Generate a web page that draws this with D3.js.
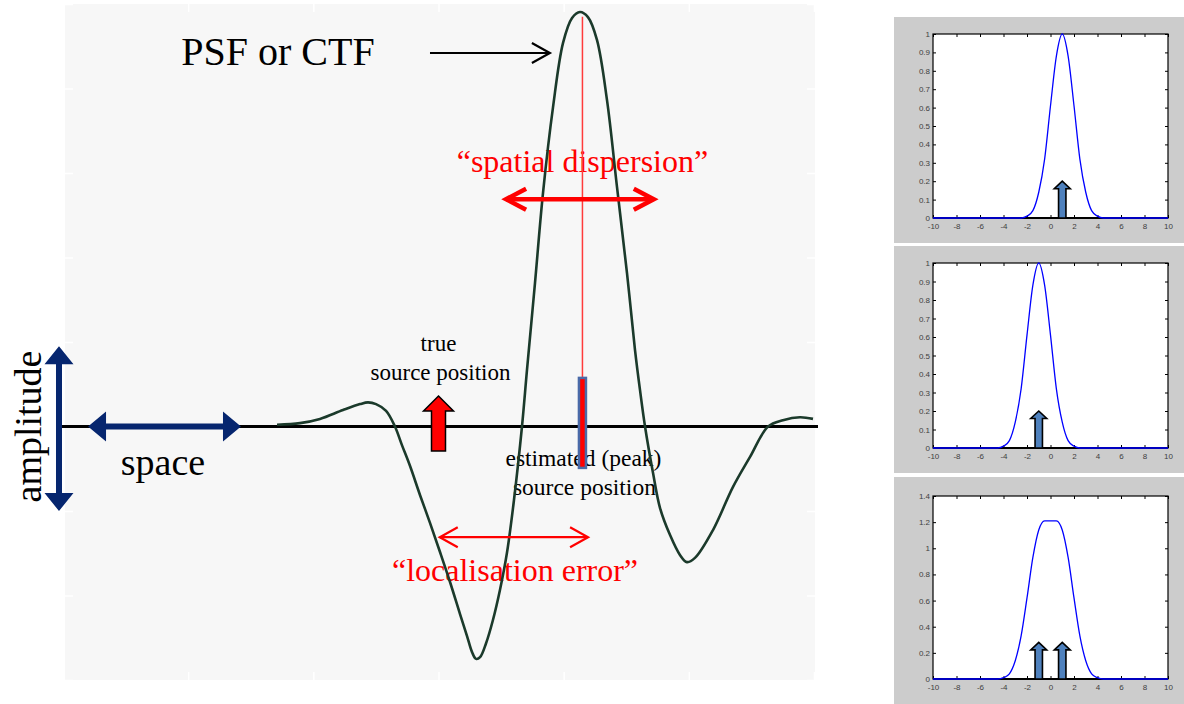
<!DOCTYPE html>
<html><head><meta charset="utf-8">
<script src="https://cdn.jsdelivr.net/npm/d3@7"></script>
<style>body{margin:0;background:#fff;overflow:hidden}</style>
</head><body><svg id="c" width="1184" height="704"></svg>
<script>
// ---------- DATA ----------
// main PSF/CTF curve (space, amplitude)
const psfX = [-1.290,-1.106,-0.947,-0.763,-0.627,-0.563,-0.499,-0.419,-0.348,-0.292,-0.228,-0.148,-0.068,0.012,0.092,0.172,0.228,0.268,0.300,0.332,0.380,0.435,0.491,0.547,0.603,0.667,0.707,0.771,0.835,0.915,0.995,1.067,1.130,1.194,1.266,1.346,1.426,1.506,1.570,1.610,1.650,1.714,1.770,1.850,1.929,1.985,2.049,2.193,2.353,2.489,2.633,2.752,2.888,2.992];
const psfY = [0.004,0.008,0.018,0.039,0.053,0.057,0.053,0.037,0.0,-0.044,-0.093,-0.162,-0.228,-0.297,-0.368,-0.444,-0.496,-0.534,-0.550,-0.546,-0.513,-0.458,-0.387,-0.299,-0.174,0.0,0.134,0.340,0.553,0.756,0.908,0.967,0.981,0.969,0.915,0.773,0.567,0.363,0.181,0.086,0.0,-0.110,-0.193,-0.257,-0.304,-0.321,-0.311,-0.245,-0.143,-0.072,0.0,0.015,0.022,0.018];
const mainXTicks = [-3,-2,-1,0,1,2,3];
const mainYTicks = [-0.6,-0.4,-0.2,0,0.2,0.4,0.6,0.8,1.0];
const trueSource = 0;
const estimatedSource = 1.15;
const labels = ["PSF or CTF","\u201Cspatial dispersion\u201D","true","source position","estimated (peak)","source position","\u201Clocalisation error\u201D","space","amplitude"];

// small panels
const smallX = [-10,-5,-4.5,-4,-3.5,-3,-2.5,-2,-1.5,-1,-0.5,0,0.5,1,1.5,2,2.5,3,3.5,4,4.5,5,10];
const small1Y = [0,0,0,0,0,0,0,0.01,0.04,0.14,0.32,0.61,0.88,1,0.88,0.61,0.32,0.14,0.04,0.01,0,0,0];
const small2Y = [0,0,0,0.01,0.04,0.14,0.32,0.61,0.88,1,0.88,0.61,0.32,0.14,0.04,0.01,0,0,0,0,0,0,0];
const small3Y = [0,0,0,0.01,0.04,0.14,0.33,0.62,0.93,1.14,1.21,1.21,1.21,1.14,0.93,0.62,0.33,0.14,0.04,0.01,0,0,0];
const smallXTicks = [-10,-8,-6,-4,-2,0,2,4,6,8,10];
const smallYTicks1 = [0,0.1,0.2,0.3,0.4,0.5,0.6,0.7,0.8,0.9,1];
const smallYTicks3 = [0,0.2,0.4,0.6,0.8,1,1.2,1.4];
const sources1 = [1], sources2 = [-1], sources3 = [-1,1];

// ---------- DRAW ----------
const svg = d3.select("#c");
const serif = "'Liberation Serif','Times New Roman',serif";

const x = d3.scaleLinear().domain([-3,3]).range([63,814]);
const y = d3.scaleLinear().domain([-0.6,1.0]).range([680,4]);

svg.append("rect").attr("x",65).attr("y",4).attr("width",750).attr("height",676).attr("fill","#f7f7f7");

// faint white frame ticks
[[d3.axisLeft(y).tickValues(mainYTicks).tickSize(-8), `translate(65,0)`],
 [d3.axisRight(y).tickValues(mainYTicks).tickSize(-8), `translate(815,0)`],
 [d3.axisTop(x).tickValues(mainXTicks).tickSize(-8), `translate(0,4)`],
 [d3.axisBottom(x).tickValues(mainXTicks).tickSize(-8), `translate(0,680)`]].forEach(([ax,t])=>{
  const g = svg.append("g").attr("transform",t).call(ax.tickFormat(""));
  g.select(".domain").remove();
  g.selectAll("line").attr("stroke","#ffffff").attr("stroke-width",1.5);
});

// texts
function txt(str, px, py, size, color, anchor){
  return svg.append("text").attr("x",px).attr("y",py).attr("font-family",serif)
    .attr("font-size",size).attr("fill",color).attr("text-anchor",anchor||"middle").text(str);
}
txt(labels[0], 278, 65, 40, "#000");
txt(labels[1], x(estimatedSource), 172, 32, "#ff0000");
txt(labels[2], x(trueSource), 351, 23, "#000");
txt(labels[3], x(trueSource)+2, 380, 23, "#000");
txt(labels[4], x(estimatedSource)+1, 466, 23.5, "#000");
txt(labels[5], x(estimatedSource)+2, 495, 23.5, "#000");
txt(labels[6], 515, 581, 32, "#ff0000");
txt(labels[7], 163, 475, 38, "#000");
svg.append("text").attr("transform",`translate(41,${y(0)}) rotate(-90)`).attr("font-family",serif)
  .attr("font-size",38).attr("text-anchor","middle").attr("fill","#000").text(labels[8]);

// baseline
svg.append("line").attr("x1",60).attr("x2",818).attr("y1",y(0)).attr("y2",y(0))
  .attr("stroke","#000").attr("stroke-width",3.2);

// red vertical peak line
svg.append("line").attr("x1",x(estimatedSource)).attr("x2",x(estimatedSource))
  .attr("y1",y(0.97)).attr("y2",y(0.1)).attr("stroke","#ff3b3b").attr("stroke-width",1.5);

// PSF curve
const pts = psfX.map((v,i)=>[v,psfY[i]]);
svg.append("path").datum(pts)
  .attr("d", d3.line().x(d=>x(d[0])).y(d=>y(d[1])).curve(d3.curveCatmullRom.alpha(0.5)))
  .attr("fill","none").attr("stroke","#1b3a2b").attr("stroke-width",2.6);

// open arrows
function openArrow(x1,x2,py,color,w,hl,hh,both){
  const g = svg.append("g").attr("stroke",color).attr("stroke-width",w).attr("fill","none")
    .attr("stroke-linecap","butt").attr("stroke-linejoin","miter");
  g.append("line").attr("x1",x1).attr("x2",x2-w/2).attr("y1",py).attr("y2",py);
  g.append("path").attr("d",`M${x2-hl},${py-hh}L${x2},${py}L${x2-hl},${py+hh}`);
  if(both) g.append("path").attr("d",`M${x1+hl},${py-hh}L${x1},${py}L${x1+hl},${py+hh}`);
}
openArrow(x(-0.068), x(0.89), y(0.884), "#000", 2.2, 18, 10, false);
openArrow(x(0.54), x(1.72), y(0.538), "#ff0000", 4.5, 20, 10.5, true);
openArrow(x(0.01), x(1.195), y(-0.262), "#ff0000", 2.2, 18, 10, true);

// navy double arrows (space / amplitude)
const navy = "#06266f";
function hArrow(x1,x2,py,t,hl,hh){
  svg.append("path").attr("fill",navy).attr("d",
    `M${x1},${py}L${x1+hl},${py-hh}L${x1+hl},${py-t/2}L${x2-hl},${py-t/2}L${x2-hl},${py-hh}L${x2},${py}`+
    `L${x2-hl},${py+hh}L${x2-hl},${py+t/2}L${x1+hl},${py+t/2}L${x1+hl},${py+hh}Z`);
}
function vArrow(px,y1,y2,t,hl,hh){
  svg.append("path").attr("fill",navy).attr("d",
    `M${px},${y1}L${px+hh},${y1+hl}L${px+t/2},${y1+hl}L${px+t/2},${y2-hl}L${px+hh},${y2-hl}L${px},${y2}`+
    `L${px-hh},${y2-hl}L${px-t/2},${y2-hl}L${px-t/2},${y1+hl}L${px-hh},${y1+hl}Z`);
}
hArrow(x(-2.80), x(-1.578), y(0), 6, 18, 15);
vArrow(x(-3.032), y(0.19), y(-0.2), 6, 18, 14.5);

// true source block arrow
function blockArrow(cx, yTip, yBase, sw, hw, hl, fill, stroke, strokeW){
  svg.append("path").attr("fill",fill).attr("stroke",stroke).attr("stroke-width",strokeW)
    .attr("stroke-linejoin","miter").attr("d",
    `M${cx},${yTip}L${cx+hw},${yTip+hl}L${cx+sw},${yTip+hl}L${cx+sw},${yBase}L${cx-sw},${yBase}L${cx-sw},${yTip+hl}L${cx-hw},${yTip+hl}Z`);
}
blockArrow(x(trueSource), y(0.072), y(-0.058), 7, 15, 15, "#ff0000", "#000", 1.5);

// estimated source marker
svg.append("rect").attr("x",x(estimatedSource)-3.5).attr("width",7)
  .attr("y",y(0.115)).attr("height",y(-0.098)-y(0.115))
  .attr("fill","#ff0000").attr("stroke","#4a6aa8").attr("stroke-width",2.5);

// ---------- SMALL PANELS ----------
function smallPanel(box, ax, yMax, yTicks, ys, sources, tip){
  svg.append("rect").attr("x",box[0]).attr("y",box[1]).attr("width",box[2]).attr("height",box[3]).attr("fill","#cccccc");
  svg.append("rect").attr("x",ax[0]).attr("y",ax[1]).attr("width",ax[2]).attr("height",ax[3]).attr("fill","#ffffff");
  const sx = d3.scaleLinear().domain([-10,10]).range([ax[0], ax[0]+ax[2]]);
  const sy = d3.scaleLinear().domain([0,yMax]).range([ax[1]+ax[3], ax[1]]);
  const font = "'Liberation Sans',Arial,sans-serif";
  const style = g => {
    g.select(".domain").remove();
    g.selectAll("line").attr("stroke","#000");
    g.selectAll("text").attr("font-family",font).attr("font-size",8).attr("fill","#404040");
  };
  const fmt = d => String(+d.toFixed(2));
  svg.append("g").attr("transform",`translate(0,${ax[1]+ax[3]})`)
    .call(d3.axisBottom(sx).tickValues(smallXTicks).tickSizeInner(-3).tickSizeOuter(0).tickPadding(5).tickFormat(fmt)).call(style);
  svg.append("g").attr("transform",`translate(0,${ax[1]})`)
    .call(d3.axisTop(sx).tickValues(smallXTicks).tickSizeInner(-3).tickSizeOuter(0).tickFormat("")).call(style);
  svg.append("g").attr("transform",`translate(${ax[0]},0)`)
    .call(d3.axisLeft(sy).tickValues(yTicks).tickSizeInner(-3).tickSizeOuter(0).tickPadding(3).tickFormat(fmt)).call(style);
  svg.append("g").attr("transform",`translate(${ax[0]+ax[2]},0)`)
    .call(d3.axisRight(sy).tickValues(yTicks).tickSizeInner(-3).tickSizeOuter(0).tickFormat("")).call(style);
  svg.append("rect").attr("x",ax[0]).attr("y",ax[1]).attr("width",ax[2]).attr("height",ax[3])
    .attr("fill","none").attr("stroke","#000").attr("stroke-width",1.2);
  svg.append("line").attr("x1",ax[0]).attr("x2",ax[0]+ax[2]).attr("y1",sy(0)).attr("y2",sy(0)).attr("stroke","#000").attr("stroke-width",2);
  // source arrows
  sources.forEach(s=>{
    const base = sy(0), tp = sy(tip);
    svg.append("path").attr("fill","#4f81bd").attr("stroke","#000").attr("stroke-width",1.6)
      .attr("d",`M${sx(s)},${tp}L${sx(s)+8},${tp+7.5}L${sx(s)+3.7},${tp+7.5}L${sx(s)+3.7},${base}L${sx(s)-3.7},${base}L${sx(s)-3.7},${tp+7.5}L${sx(s)-8},${tp+7.5}Z`);
  });
  const data = smallX.map((v,i)=>[v,ys[i]]);
  svg.append("path").datum(data)
    .attr("d", d3.line().x(d=>sx(d[0])).y(d=>sy(d[1])).curve(d3.curveMonotoneX))
    .attr("fill","none").attr("stroke","#0000ff").attr("stroke-width",1.3);
}
smallPanel([894,17,290,226],[933,34,235,184],1,smallYTicks1,small1Y,sources1,0.2);
smallPanel([894,246,290,227],[933,263,235,185],1,smallYTicks1,small2Y,sources2,0.2);
smallPanel([894,477,290,227],[933,496,235,183],1.4,smallYTicks3,small3Y,sources3,0.28);
</script></body></html>
